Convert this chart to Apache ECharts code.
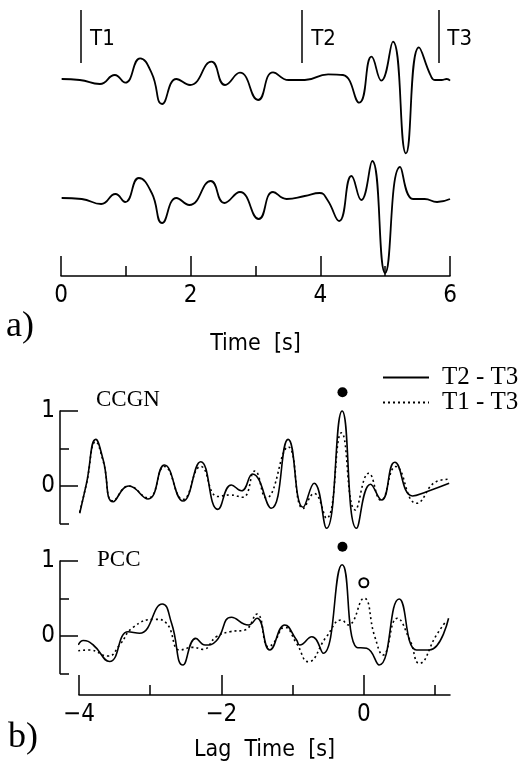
<!DOCTYPE html>
<html><head><meta charset="utf-8">
<script src="https://cdn.jsdelivr.net/npm/echarts@6/dist/echarts.min.js"></script>
<style>html,body{margin:0;padding:0;background:#fff}#c{width:523px;height:766px}</style>
</head><body><div id="c"></div>
<script>
// ---------- data ----------
// panel a: time axis
const timeTicks = [0, 2, 4, 6];
// seismogram 1 (upper): [time s, amplitude]
const trace1 = [[0.01,1],[0.29,0],[0.60,-4],[0.83,5],[0.99,-2.7],[1.22,21.7],[1.40,6.7],[1.56,-24],[1.78,1],[1.99,-5],[2.32,18.3],[2.53,-5],[2.76,7.3],[3.04,-20],[3.27,7.7],[3.51,0],[3.76,0],[4.12,5.7],[4.35,5],[4.60,-22.7],[4.79,23.3],[4.94,-0.7],[5.12,38.3],[5.32,-73.3],[5.52,32.7],[5.71,3.3],[5.77,0],[5.87,0],[5.95,1],[6.0,-0.7]];
// seismogram 2 (lower)
const trace2 = [[0.01,0],[0.32,-1],[0.62,-6],[0.84,4],[0.99,-4],[1.20,20],[1.40,5],[1.56,-25],[1.78,0],[1.98,-7],[2.31,17],[2.52,-5],[2.76,6],[3.05,-21],[3.27,6],[3.48,-1],[3.76,2],[3.99,5],[4.11,-2],[4.29,-23],[4.48,22],[4.63,-2],[4.80,37],[5.00,-75],[5.23,31],[5.43,-1],[5.61,-1],[5.80,-4],[6.0,-1]];
// window markers
const arrivalNames = ['T1', 'T2', 'T3'];
const arrivalTimes = [0.31, 3.72, 5.82];
const markerRange = [17, 70];
// panel b: lag axis
const lagMajorTicks = [-4, -2, 0];
const lagMinorTicks = [-3, -1, 1];
const corrLabelTicks = [0, 1];
const seriesNames = ['T2 - T3', 'T1 - T3'];
const ccgnT2T3 = [[-3.99,-0.364],[-3.895,0.036],[-3.764,0.622],[-3.66,0.347],[-3.52,-0.209],[-3.30,0.0],[-3.03,-0.173],[-2.80,0.28],[-2.54,-0.2],[-2.29,0.324],[-2.05,-0.311],[-1.86,0.013],[-1.72,-0.063],[-1.563,0.16],[-1.30,-0.297],[-1.063,0.622],[-0.853,-0.284],[-0.698,0.036],[-0.524,-0.564],[-0.305,1.0],[-0.103,-0.564],[0.094,0.023],[0.249,-0.187],[0.435,0.316],[0.684,-0.133],[0.881,-0.076],[1.198,0.036]];
const ccgnT1T3 = [[-3.99,-0.35],[-3.895,0.03],[-3.764,0.59],[-3.66,0.33],[-3.52,-0.2],[-3.30,0.0],[-3.03,-0.16],[-2.80,0.26],[-2.54,-0.18],[-2.29,0.26],[-2.05,-0.14],[-1.88,-0.12],[-1.7,-0.15],[-1.53,0.2],[-1.37,-0.16],[-1.063,0.52],[-0.853,-0.3],[-0.698,-0.1],[-0.524,-0.43],[-0.313,0.71],[-0.12,-0.32],[0.07,0.17],[0.24,-0.19],[0.45,0.26],[0.74,-0.23],[1.02,0.06],[1.198,0.09]];
const pccT2T3 = [[-4.01,-0.12],[-3.94,-0.06],[-3.80,-0.12],[-3.57,-0.34],[-3.31,0.057],[-3.15,0.036],[-2.83,0.427],[-2.70,0.17],[-2.54,-0.387],[-2.36,-0.031],[-2.23,-0.12],[-2.07,-0.063],[-1.86,0.25],[-1.62,0.147],[-1.50,0.236],[-1.32,-0.187],[-1.11,0.147],[-0.945,-0.053],[-0.90,-0.12],[-0.73,-0.009],[-0.57,-0.23],[-0.305,0.95],[-0.103,-0.151],[0.04,-0.164],[0.215,-0.387],[0.496,0.493],[0.74,-0.187],[0.92,-0.187],[1.19,0.236]];
const pccT1T3 = [[-4.01,-0.196],[-3.85,-0.187],[-3.59,-0.267],[-3.43,-0.12],[-3.24,0.116],[-2.93,0.222],[-2.77,0.169],[-2.58,-0.187],[-2.40,-0.151],[-2.26,-0.178],[-2.07,-0.009],[-1.88,0.057],[-1.67,0.08],[-1.50,0.293],[-1.34,-0.142],[-1.27,-0.098],[-1.11,0.116],[-0.945,-0.098],[-0.78,-0.342],[-0.524,-0.009],[-0.313,0.213],[-0.22,0.147],[0.0,0.503],[0.154,-0.009],[0.27,-0.253],[0.468,0.236],[0.646,-0.053],[0.78,-0.364],[1.02,0.013],[1.16,0.204]];
const ccgnPick = [[-0.3, 1.25]];
const pccPick = [[-0.3, 1.19]];
const pccAltPick = [[0.0, 0.71]];

// ---------- styles ----------
const SANS = '"Liberation Sans Narrow","DejaVu Sans Condensed","Arial Narrow","Roboto Condensed",sans-serif';
const SERIF = '"Liberation Serif","Times New Roman",serif';
const K = '#000';
const fmtMinus = v => (v < 0 ? '\u2212' + (-v) : String(v));
const axLine = {show: true, onZero: false, lineStyle: {color: K, width: 1.5}};
const noLine = {show: false, onZero: false};

const chart = echarts.init(document.getElementById('c'), null, {renderer: 'canvas'});
const lineBase = {type: 'line', symbol: 'none', smooth: 0.5, silent: true, clip: false, animation: false};

chart.setOption({
  backgroundColor: '#fff',
  animation: false,
  grid: [
    {left: 61, width: 389, top: 8, height: 152},
    {left: 61, width: 389, top: 158, height: 118},
    {left: 79, width: 371, top: 411, height: 112.5},
    {left: 79, width: 371, top: 561, height: 112.5}
  ],
  xAxis: [
    {gridIndex: 0, type: 'value', min: 0, max: 6, show: false},
    {gridIndex: 1, type: 'value', position: 'bottom', min: timeTicks[0], max: timeTicks[timeTicks.length - 1], interval: 2,
      axisLine: axLine,
      axisTick: {show: true, inside: true, length: 20, lineStyle: {color: K, width: 1.5}},
      minorTick: {show: true, splitNumber: 2, length: 10, lineStyle: {color: K, width: 1.5}},
      splitLine: {show: false}, minorSplitLine: {show: false},
      axisLabel: {color: K, fontFamily: SANS, fontSize: 24, margin: 8},
      name: 'Time  [s]', nameLocation: 'middle', nameGap: 57,
      nameTextStyle: {color: K, fontFamily: SANS, fontSize: 23}},
    {gridIndex: 2, type: 'value', min: -4, max: 1.21, show: false},
    {gridIndex: 3, type: 'value', position: 'bottom', min: -4, max: 1.21, offset: 21.5,
      axisLine: axLine,
      axisTick: {show: true, inside: true, length: 20, customValues: lagMajorTicks, lineStyle: {color: K, width: 1.5}},
      splitLine: {show: false},
      axisLabel: {color: K, fontFamily: SANS, fontSize: 24, margin: 8, customValues: lagMajorTicks, formatter: fmtMinus},
      name: 'Lag  Time  [s]', nameLocation: 'middle', nameGap: 44,
      nameTextStyle: {color: K, fontFamily: SANS, fontSize: 23}},
    {gridIndex: 3, type: 'value', position: 'bottom', min: -4, max: 1.21, offset: 21.5,
      axisLine: noLine,
      axisTick: {show: true, inside: true, length: 10, customValues: lagMinorTicks, lineStyle: {color: K, width: 1.5}},
      splitLine: {show: false}, axisLabel: {show: false}}
  ],
  yAxis: [
    {gridIndex: 0, type: 'value', min: -80, max: 72, show: false},
    {gridIndex: 1, type: 'value', min: -78, max: 40, show: false},
    {gridIndex: 2, type: 'value', position: 'left', min: -0.5, max: 1, interval: 0.5, offset: 19,
      axisLine: axLine,
      axisTick: {show: true, inside: true, length: 9, lineStyle: {color: K, width: 1.5}},
      splitLine: {show: false}, axisLabel: {show: false}},
    {gridIndex: 2, type: 'value', position: 'left', min: -0.5, max: 1, offset: 19,
      axisLine: noLine,
      axisTick: {show: true, inside: true, length: 18, customValues: corrLabelTicks, lineStyle: {color: K, width: 1.5}},
      splitLine: {show: false},
      axisLabel: {color: K, fontFamily: SANS, fontSize: 24, margin: 5, customValues: corrLabelTicks}},
    {gridIndex: 3, type: 'value', position: 'left', min: -0.5, max: 1, interval: 0.5, offset: 19,
      axisLine: axLine,
      axisTick: {show: true, inside: true, length: 9, lineStyle: {color: K, width: 1.5}},
      splitLine: {show: false}, axisLabel: {show: false}},
    {gridIndex: 3, type: 'value', position: 'left', min: -0.5, max: 1, offset: 19,
      axisLine: noLine,
      axisTick: {show: true, inside: true, length: 18, customValues: corrLabelTicks, lineStyle: {color: K, width: 1.5}},
      splitLine: {show: false},
      axisLabel: {color: K, fontFamily: SANS, fontSize: 24, margin: 5, customValues: corrLabelTicks}}
  ],
  legend: {
    data: seriesNames, orient: 'vertical', left: 377, top: 360,
    itemWidth: 46, itemHeight: 14, itemGap: 0, selectedMode: false,
    itemStyle: {opacity: 0, borderWidth: 0},
    textStyle: {color: K, fontFamily: SERIF, fontSize: 25, padding: [0, 0, 0, 8]}
  },
  graphic: [
    {type: 'text', x: 6, y: 327, style: {text: 'a)', font: '36px ' + SERIF, fill: K, verticalAlign: 'middle'}},
    {type: 'text', x: 8, y: 738, style: {text: 'b)', font: '36px ' + SERIF, fill: K, verticalAlign: 'middle'}},
    {type: 'text', x: 96, y: 400, style: {text: 'CCGN', font: '23px ' + SERIF, fill: K, verticalAlign: 'middle'}},
    {type: 'text', x: 97, y: 560, style: {text: 'PCC', font: '23px ' + SERIF, fill: K, verticalAlign: 'middle'}}
  ],
  series: [
    Object.assign({}, lineBase, {name: 'trace1', xAxisIndex: 0, yAxisIndex: 0, data: trace1, lineStyle: {color: K, width: 1.8}}),
    Object.assign({}, lineBase, {name: 'trace2', xAxisIndex: 1, yAxisIndex: 1, data: trace2, lineStyle: {color: K, width: 1.8}}),
    {type: 'scatter', name: 'arrivals', xAxisIndex: 0, yAxisIndex: 0, silent: true, symbolSize: 0,
      itemStyle: {opacity: 1, color: K},
      data: arrivalTimes.map((t, i) => ({name: arrivalNames[i], value: [t, (markerRange[0] + markerRange[1]) / 2]})),
      label: {show: true, position: 'right', distance: 9, offset: [0, 3], formatter: '{b}', color: K, opacity: 1, fontFamily: SANS, fontSize: 22},
      markLine: {silent: true, symbol: 'none', animation: false, label: {show: false},
        lineStyle: {color: K, type: 'solid', width: 1.5, opacity: 1},
        data: arrivalTimes.map(t => [{coord: [t, markerRange[0]]}, {coord: [t, markerRange[1]]}])}},
    Object.assign({}, lineBase, {name: seriesNames[0], xAxisIndex: 2, yAxisIndex: 2, data: ccgnT2T3, lineStyle: {color: K, width: 1.6}, itemStyle: {color: K}}),
    Object.assign({}, lineBase, {name: seriesNames[1], xAxisIndex: 2, yAxisIndex: 2, data: ccgnT1T3, lineStyle: {color: K, width: 1.6, type: [2, 3]}, itemStyle: {color: K}}),
    Object.assign({}, lineBase, {name: seriesNames[0], xAxisIndex: 3, yAxisIndex: 4, data: pccT2T3, lineStyle: {color: K, width: 1.6}, itemStyle: {color: K}}),
    Object.assign({}, lineBase, {name: seriesNames[1], xAxisIndex: 3, yAxisIndex: 4, data: pccT1T3, lineStyle: {color: K, width: 1.6, type: [2, 3]}, itemStyle: {color: K}}),
    {type: 'scatter', xAxisIndex: 2, yAxisIndex: 2, data: ccgnPick, symbolSize: 10, clip: false, silent: true, itemStyle: {color: K, opacity: 1}},
    {type: 'scatter', xAxisIndex: 3, yAxisIndex: 4, data: pccPick, symbolSize: 10, clip: false, silent: true, itemStyle: {color: K, opacity: 1}},
    {type: 'scatter', xAxisIndex: 3, yAxisIndex: 4, data: pccAltPick, symbolSize: 9, clip: false, silent: true, itemStyle: {color: '#fff', borderColor: K, borderWidth: 2, opacity: 1}}
  ]
});
</script>
</body></html>
